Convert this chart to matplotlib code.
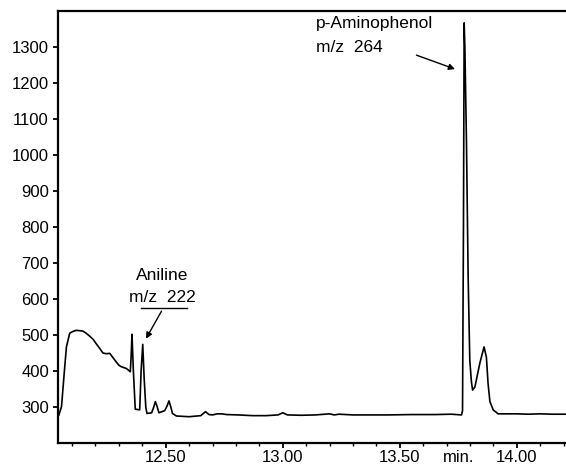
import numpy as np
import matplotlib
matplotlib.use("Agg")
import matplotlib.pyplot as plt
from matplotlib.ticker import MultipleLocator

plt.rcParams['font.family'] = ['Liberation Sans', 'DejaVu Sans']

# chromatogram trace (time in min, abundance)
time = [12.044, 12.055, 12.066, 12.076, 12.09, 12.104, 12.118, 12.132, 12.146, 12.16,
        12.175, 12.19, 12.203, 12.218, 12.232, 12.246, 12.261, 12.275, 12.289, 12.30,
        12.31, 12.332, 12.349, 12.353, 12.356, 12.362, 12.37, 12.389, 12.395,
        12.402, 12.408, 12.415, 12.420, 12.44, 12.448, 12.456, 12.464, 12.471,
        12.496, 12.506, 12.514, 12.522, 12.529, 12.546, 12.60, 12.65, 12.67, 12.685,
        12.70, 12.72, 12.74, 12.76, 12.81, 12.87, 12.93, 12.98, 13.00, 13.02,
        13.08, 13.14, 13.20, 13.22, 13.24, 13.30, 13.35, 13.45, 13.55, 13.65,
        13.72, 13.764, 13.768, 13.772, 13.775, 13.778, 13.785, 13.792, 13.799, 13.806,
        13.811, 13.821, 13.842, 13.860, 13.870, 13.877, 13.885, 13.899, 13.92, 13.95,
        14.0, 14.05, 14.10, 14.15, 14.21]
signal = [278, 301, 390, 467, 505, 510, 513, 512, 511, 505,
          497, 488, 476, 463, 450, 448, 449, 437, 425, 416,
          412, 407, 398, 450, 502, 400, 294, 292, 400,
          474, 380, 300, 282, 284, 298, 315, 300, 284,
          290, 303, 317, 300, 282, 275, 273, 276, 287, 279,
          278, 281, 281, 279, 278, 276, 276, 278, 284, 278,
          277, 278, 281, 278, 280, 278, 278, 278, 279, 279,
          280, 278, 290, 800, 1367, 1300, 1030, 661, 430, 370,
          347, 356, 422, 467, 438, 366, 315, 292, 281, 281,
          281, 280, 281, 280, 280]

x_major = [12.5, 13.0, 13.5, 14.0]
x_labels = ['12.50', '13.00', '13.50', '14.00']
y_major = list(range(300, 1400, 100))

fig = plt.figure(figsize=(5.66, 4.70), dpi=100)
ax = fig.add_axes([58 / 566, 27 / 470, 1 - 58 / 566, 432 / 470])

ax.plot(time, signal, color='black', lw=1.2)

ax.set_xlim(12.04, 14.21)
ax.set_ylim(200, 1400)
ax.set_xticks(x_major)
ax.set_xticklabels(x_labels)
ax.xaxis.set_minor_locator(MultipleLocator(0.1))
ax.set_yticks(y_major)

ax.spines['right'].set_visible(False)
for s in ['left', 'bottom', 'top']:
    ax.spines[s].set_linewidth(1.6)
ax.tick_params(axis='both', which='major', labelsize=12, width=1.3, length=3.5, pad=3)
ax.tick_params(axis='x', which='major', pad=1.5)
ax.tick_params(axis='x', which='minor', width=1.0, length=2)

# time unit placed among the tick labels
ax.annotate('min.', xy=(13.75, 0), xycoords=('data', 'axes fraction'),
            xytext=(0, -5), textcoords='offset points',
            fontsize=12, ha='center', va='top')

# Aniline annotation
ax.text(12.486, 666, 'Aniline', fontsize=12.5, ha='center', va='center')
ax.text(12.486, 605, 'm/z  222', fontsize=12.5, ha='center', va='center')
ax.plot([12.396, 12.591], [576, 576], color='black', lw=1.0)
ax.annotate('', xy=(12.41, 483), xytext=(12.488, 573),
            arrowprops=dict(arrowstyle='-|>', color='black', lw=1.0, mutation_scale=9))

# p-Aminophenol annotation
ax.text(13.141, 1364, 'p-Aminophenol', fontsize=12.5, ha='left', va='center')
ax.text(13.141, 1298, 'm/z  264', fontsize=12.5, ha='left', va='center')
ax.annotate('', xy=(13.747, 1236), xytext=(13.56, 1280),
            arrowprops=dict(arrowstyle='-|>', color='black', lw=1.0, mutation_scale=9))

fig.savefig('out.png', dpi=100)
